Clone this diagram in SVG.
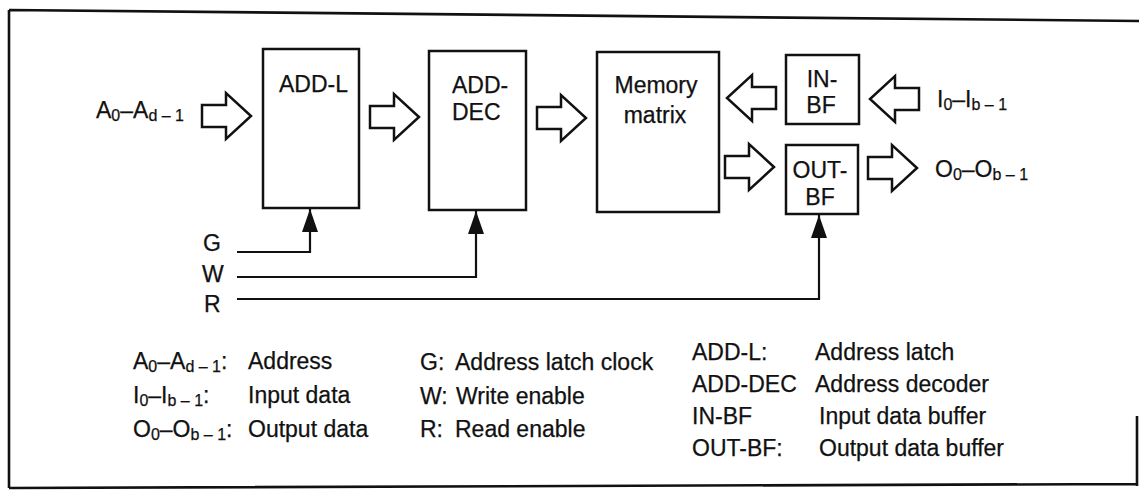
<svg xmlns="http://www.w3.org/2000/svg" width="1139" height="496" viewBox="0 0 1139 496">
<style>
text{font-family:"Liberation Sans",Arial,Helvetica,sans-serif;font-size:23px;fill:#111;stroke:#111;stroke-width:0.25}
.box{fill:#fff;stroke:#111;stroke-width:2.5}
.blk{fill:#fff;stroke:#111;stroke-width:2.5;stroke-linejoin:miter}
.ctl{fill:none;stroke:#111;stroke-width:2.2}
.frame{fill:none;stroke:#111;stroke-width:2.6}
.sub{font-size:16px}
</style>
<defs>
<path id="barrow" class="blk" d="M0,-11 H24 V-23 L49,0 L24,23 V11 H0 Z"/>
<marker id="tri" viewBox="0 0 23 16" refX="23" refY="8" markerWidth="23" markerHeight="16" markerUnits="userSpaceOnUse" orient="auto">
<path d="M0,0 L23,8 L0,16 Z" fill="#111"/>
</marker>
</defs>
<rect width="1139" height="496" fill="#fff"/>
<g id="frame">
<path class="frame" d="M9,10 L1139,21 M9,10 V488 M9,488 L1137,484 M1137,416 V486"/>
</g>
<g id="node-add-l">
<rect class="box" x="263" y="49" width="96" height="159"/>
<text x="279" y="92">ADD-L</text>
</g>
<g id="node-add-dec">
<rect class="box" x="429" y="51" width="97" height="159"/>
<text x="452" y="93">ADD-</text>
<text x="452" y="120">DEC</text>
</g>
<g id="node-memory">
<rect class="box" x="597" y="52" width="122" height="160"/>
<text x="656" y="93" text-anchor="middle">Memory</text>
<text x="655" y="123" text-anchor="middle">matrix</text>
</g>
<g id="node-in-bf">
<rect class="box" x="786" y="55" width="73" height="69"/>
<text x="822" y="87" text-anchor="middle">IN-</text>
<text x="821" y="113" text-anchor="middle">BF</text>
</g>
<g id="node-out-bf">
<rect class="box" x="786" y="145" width="72" height="69"/>
<text x="820" y="178" text-anchor="middle">OUT-</text>
<text x="820" y="205" text-anchor="middle">BF</text>
</g>
<g id="connectors">
<use href="#barrow" transform="translate(202,116)"/>
<use href="#barrow" transform="translate(370,117)"/>
<use href="#barrow" transform="translate(537,118)"/>
<use href="#barrow" transform="translate(776,98) scale(-1,1)"/>
<use href="#barrow" transform="translate(725,167)"/>
<use href="#barrow" transform="translate(919,99) scale(-1,1)"/>
<use href="#barrow" transform="translate(868,168)"/>
<path class="ctl" d="M237,252 H310 V209" marker-end="url(#tri)"/>
<path class="ctl" d="M237,277 H476 V211" marker-end="url(#tri)"/>
<path class="ctl" d="M237,299 H819 V215" marker-end="url(#tri)"/>
</g>
<g id="labels">
<text x="96" y="118">A<tspan class="sub" dy="3">0</tspan><tspan dy="-3">–A</tspan><tspan class="sub" dy="3">d – 1</tspan></text>
<text x="937" y="107">I<tspan class="sub" dy="3">0</tspan><tspan dy="-3">–I</tspan><tspan class="sub" dy="3">b – 1</tspan></text>
<text x="935" y="177">O<tspan class="sub" dy="3">0</tspan><tspan dy="-3">–O</tspan><tspan class="sub" dy="3">b – 1</tspan></text>
<text x="203" y="251">G</text>
<text x="202" y="282">W</text>
<text x="204" y="312">R</text>
</g>
<g id="legend">
<text x="133" y="369">A<tspan class="sub" dy="3">0</tspan><tspan dy="-3">–A</tspan><tspan class="sub" dy="3">d – 1</tspan><tspan dy="-3">:</tspan></text>
<text x="248" y="369">Address</text>
<text x="133" y="403">I<tspan class="sub" dy="3">0</tspan><tspan dy="-3">–I</tspan><tspan class="sub" dy="3">b – 1</tspan><tspan dy="-3">:</tspan></text>
<text x="248" y="403">Input data</text>
<text x="133" y="437">O<tspan class="sub" dy="3">0</tspan><tspan dy="-3">–O</tspan><tspan class="sub" dy="3">b – 1</tspan><tspan dy="-3">:</tspan></text>
<text x="248" y="437">Output data</text>
<text x="420" y="370">G:</text>
<text x="455" y="370">Address latch clock</text>
<text x="420" y="404">W:</text>
<text x="456" y="404">Write enable</text>
<text x="420" y="437">R:</text>
<text x="455" y="437">Read enable</text>
<text x="692" y="360">ADD-L:</text>
<text x="815" y="360">Address latch</text>
<text x="692" y="392">ADD-DEC</text>
<text x="815" y="392">Address decoder</text>
<text x="692" y="424">IN-BF</text>
<text x="819" y="424">Input data buffer</text>
<text x="692" y="456">OUT-BF:</text>
<text x="819" y="456">Output data buffer</text>
</g>
</svg>
